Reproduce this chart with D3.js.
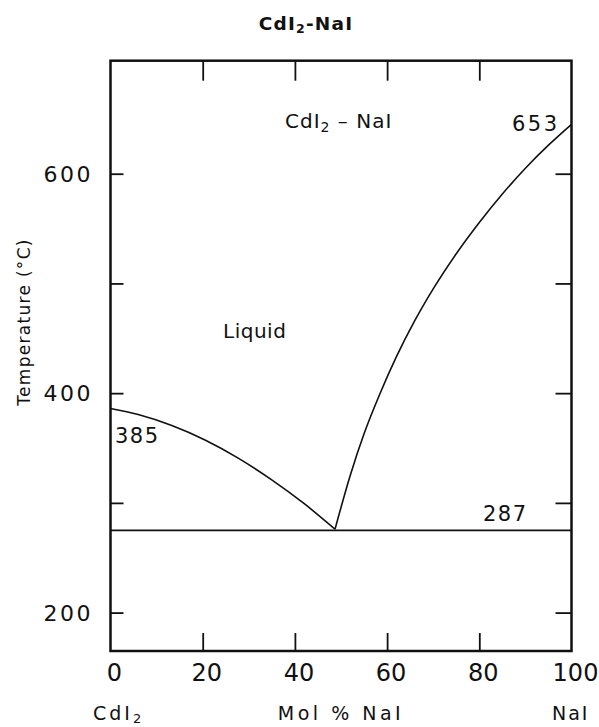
<!DOCTYPE html>
<html>
<head>
<meta charset="utf-8">
<script src="https://cdn.jsdelivr.net/npm/d3@7/dist/d3.min.js"></script>
<style>
  html, body { margin: 0; padding: 0; background: #fff; }
  svg { display: block; }
  text { font-family: "DejaVu Sans", "Liberation Sans", sans-serif; fill: #111; }
</style>
</head>
<body>
<svg id="chart" width="599" height="727"></svg>
<script>
// ---- Data ----
const xTickValues = [0, 20, 40, 60, 80, 100];
const xTickLabels = ["0", "20", "40", "60", "80", "100"];
const yTickValues = [200, 300, 400, 500, 600];
const yTickLabels = ["200", "", "400", "", "600"];
// Liquidus branch on the CdI2 side (mol % NaI, °C)
const leftX = [0, 6, 13.3, 20.5, 27.7, 34.9, 42.1, 48.7];
const leftT = [386, 380.5, 370.5, 357.3, 340.8, 321.2, 299, 276];
// Liquidus branch on the NaI side
const rightX = [48.7, 52, 55, 58.4, 62, 66, 70, 75, 80, 85, 90, 95, 100];
const rightT = [276, 325, 363, 399, 433, 466, 495, 527, 555.5, 581.5, 605, 626, 645];
// Eutectic horizontal
const eutecticT = 275;
const eutecticLabel = "287";
const meltCdI2 = "385";
const meltNaI = "653";

// ---- Scales ----
const svg = d3.select("#chart");
const x = d3.scaleLinear().domain([0, 100]).range([110.5, 571.5]);
const y = d3.scaleLinear().domain([165, 703]).range([651, 60.7]);

const g = svg.append("g");

// Frame
g.append("rect")
  .attr("x", x(0)).attr("y", y(703))
  .attr("width", x(100) - x(0)).attr("height", y(165) - y(703))
  .attr("fill", "none").attr("stroke", "#111").attr("stroke-width", 2.5);

// Axes with inward ticks
const xInner = xTickValues.filter(v => v > 0 && v < 100);
const axB = d3.axisBottom(x).tickValues(xInner).tickSize(-18).tickFormat("");
const axT = d3.axisTop(x).tickValues(xInner).tickSize(-20).tickFormat("");
const axL = d3.axisLeft(y).tickValues(yTickValues).tickSize(-13).tickFormat("");
const axR = d3.axisRight(y).tickValues(yTickValues).tickSize(-16).tickFormat("");
[[axB, `translate(0,${y(165)})`], [axT, `translate(0,${y(703)})`],
 [axL, `translate(${x(0)},0)`], [axR, `translate(${x(100)},0)`]].forEach(([ax, tr]) => {
  const a = g.append("g").attr("transform", tr).call(ax);
  a.select(".domain").remove();
  a.selectAll("line").attr("stroke", "#111").attr("stroke-width", 1.8);
});

// X tick labels
g.selectAll(".xl").data(xTickValues).enter().append("text")
  .attr("x", d => x(d) + 4)
  .attr("y", 681)
  .attr("text-anchor", "middle")
  .attr("font-size", 24)
  .text((d, i) => xTickLabels[i]);

// Y tick labels
g.selectAll(".yl").data(yTickValues).enter().append("text")
  .attr("x", 93)
  .attr("y", d => y(d))
  .attr("dy", "0.36em")
  .attr("text-anchor", "end")
  .attr("font-size", 22)
  .attr("letter-spacing", 2.5)
  .text((d, i) => yTickLabels[i]);

// Curves
g.append("path").datum(leftX.map((v, i) => [v, leftT[i]]))
  .attr("d", d3.line().x(d => x(d[0])).y(d => y(d[1])).curve(d3.curveMonotoneX))
  .attr("fill", "none").attr("stroke", "#111").attr("stroke-width", 1.6);
g.append("path").datum(rightX.map((v, i) => [v, rightT[i]]))
  .attr("d", d3.line().x(d => x(d[0])).y(d => y(d[1])).curve(d3.curveMonotoneX))
  .attr("fill", "none").attr("stroke", "#111").attr("stroke-width", 1.6);
g.append("line")
  .attr("x1", x(0)).attr("x2", x(100))
  .attr("y1", y(eutecticT)).attr("y2", y(eutecticT))
  .attr("stroke", "#111").attr("stroke-width", 1.8);

// In-plot annotations
g.append("text").attr("x", 115).attr("y", 443).attr("font-size", 21).attr("letter-spacing", 1.5).text(meltCdI2);
g.append("text").attr("x", 512).attr("y", 130.5).attr("font-size", 21).attr("letter-spacing", 2.5).text(meltNaI);
g.append("text").attr("x", 483).attr("y", 521).attr("font-size", 21).attr("letter-spacing", 1.5).text(eutecticLabel);
const sys = g.append("text").attr("x", 285).attr("y", 128).attr("font-size", 20).attr("letter-spacing", 1);
sys.append("tspan").text("CdI");
sys.append("tspan").attr("font-size", 14).attr("dy", 4).text("2");
sys.append("tspan").attr("dy", -4).text(" – NaI");
g.append("text").attr("x", 223).attr("y", 337.5).attr("font-size", 20).attr("letter-spacing", 0.5).text("Liquid");

// Title
const t = svg.append("text").attr("x", 306).attr("y", 30).attr("text-anchor", "middle")
  .attr("font-size", 18.5).attr("font-weight", "bold").attr("letter-spacing", 1.2);
t.append("tspan").text("CdI");
t.append("tspan").attr("font-size", 12.5).attr("dy", 3).text("2");
t.append("tspan").attr("dy", -3).text("-NaI");

// Axis titles
svg.append("text").attr("transform", "translate(30,322) rotate(-90)")
  .attr("text-anchor", "middle").attr("font-size", 17).attr("letter-spacing", 1.3)
  .text("Temperature (°C)");
const c = svg.append("text").attr("x", 93).attr("y", 720).attr("font-size", 19).attr("letter-spacing", 3);
c.append("tspan").text("CdI");
c.append("tspan").attr("font-size", 13).attr("dy", 3).text("2");
svg.append("text").attr("x", 341).attr("y", 720).attr("text-anchor", "middle").attr("font-size", 19).attr("letter-spacing", 3.5).text("Mol % NaI");
svg.append("text").attr("x", 552).attr("y", 720).attr("font-size", 19).attr("letter-spacing", 2).text("NaI");
</script>
</body>
</html>
